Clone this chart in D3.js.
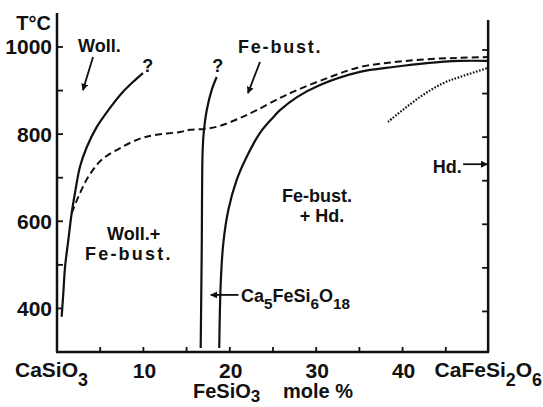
<!DOCTYPE html>
<html>
<head>
<meta charset="utf-8">
<script src="https://cdn.jsdelivr.net/npm/d3@7"></script>
<style>
  body { margin: 0; background: #fff; }
  text { font-family: "Liberation Sans", Arial, sans-serif; font-weight: bold; fill: #111; }
</style>
</head>
<body>
<div id="chart"></div>
<script>
/* DATA (mole % FeSiO3, temperature °C) */
const tempTicks = [400, 500, 600, 700, 800, 900, 1000];
const tempLabels = [400, 600, 800, 1000];
const moleTicks = [5, 10, 15, 20, 25, 30, 35, 40, 45];
const moleLabels = [10, 20, 30, 40];

// wollastonite solid-solution limit
const wollastonite = [[0.54, 381], [0.73, 435], [0.93, 495], [1.31, 557], [1.70, 619], [2.08, 665],
  [2.66, 725], [3.44, 770], [4.59, 816], [5.94, 855], [7.49, 894], [9.03, 924], [9.95, 940]];
// Fe-bustamite limit (dashed)
const bustamite = [[1.70, 619], [2.47, 656], [3.62, 702], [5.17, 741], [7.49, 770], [9.80, 791],
  [11.34, 798], [14.24, 805], [15.39, 810], [17.13, 812], [18.87, 819], [21.18, 837], [23.11, 855],
  [25.81, 883], [27.78, 901], [31.6, 931], [35.07, 954], [38.9, 965], [42.8, 972], [46.6, 975], [49.9, 977]];
// Ca5FeSi6O18 composition line
const ca5Line = [[16.63, 309], [16.75, 534], [16.86, 764], [17.01, 810], [17.33, 855], [17.9, 901], [18.48, 931]];
// Fe-bustamite + hedenbergite boundary
const hdBoundary = [[18.78, 309], [18.95, 458], [19.25, 550], [19.83, 626], [20.8, 695], [21.96, 748],
  [23.5, 803], [25.03, 839], [25.81, 855], [27.78, 885], [30.44, 913], [35.07, 943], [38.9, 954],
  [42.8, 963], [46.6, 968], [49.9, 968]];
// hedenbergite (dotted)
const hdDotted = [[38.3, 828], [42.0, 885], [44.7, 917], [46.6, 931], [49.9, 952]];

/* CONSTANTS */
const width = 543, height = 407;
const x = d3.scaleLinear().domain([0, 50]).range([57, 489]);
const y = d3.scaleLinear().domain([300, 1078]).range([352, 13]);

const svg = d3.select("#chart").append("svg")
  .attr("width", width)
  .attr("height", height);

const defs = svg.append("defs");
defs.append("marker")
  .attr("id", "head")
  .attr("viewBox", "0 0 10 10")
  .attr("refX", 9).attr("refY", 5)
  .attr("markerWidth", 7).attr("markerHeight", 7)
  .attr("markerUnits", "userSpaceOnUse")
  .attr("orient", "auto")
  .append("path")
  .attr("d", "M0,0L10,5L0,10z")
  .attr("fill", "#111");

/* AXES */
const axes = svg.append("g").attr("stroke", "#111");
axes.append("line")
  .attr("x1", x(0)).attr("x2", x(0)).attr("y1", y(300)).attr("y2", y(1078))
  .attr("stroke-width", 2.5);
axes.append("line")
  .attr("x1", x(49.9)).attr("x2", x(49.9)).attr("y1", y(300)).attr("y2", y(1062))
  .attr("stroke-width", 2.5);
axes.append("line")
  .attr("x1", x(0) - 1).attr("x2", x(49.9) + 1).attr("y1", y(300)).attr("y2", y(300))
  .attr("stroke-width", 2.5);

axes.selectAll("line.lt").data(tempTicks).join("line")
  .attr("class", "lt")
  .attr("x1", x(0)).attr("x2", x(0) + 6)
  .attr("y1", d => y(d)).attr("y2", d => y(d))
  .attr("stroke-width", 1.8);
axes.selectAll("line.rt").data(tempTicks).join("line")
  .attr("class", "rt")
  .attr("x1", x(49.9)).attr("x2", x(49.9) - 6)
  .attr("y1", d => y(d) + 3).attr("y2", d => y(d) + 3)
  .attr("stroke-width", 1.8);
axes.selectAll("line.bt").data(moleTicks).join("line")
  .attr("class", "bt")
  .attr("x1", d => x(d)).attr("x2", d => x(d))
  .attr("y1", y(300)).attr("y2", y(300) - 5)
  .attr("stroke-width", 1.8);

svg.selectAll("text.yl").data(tempLabels).join("text")
  .attr("class", "yl")
  .attr("x", x(0) - 5)
  .attr("y", d => y(d) + 7.5)
  .attr("text-anchor", "end")
  .attr("font-size", 21)
  .text(d => d);

svg.selectAll("text.xl").data(moleLabels).join("text")
  .attr("class", "xl")
  .attr("x", d => x(d) + 1)
  .attr("y", 378)
  .attr("text-anchor", "middle")
  .attr("font-size", 21)
  .text(d => d);

// compound labels with subscripts
function formula(parts, sx, sy, size, anchor, drop) {
  drop = drop || 0.42;
  const t = svg.append("text")
    .attr("x", sx).attr("y", sy)
    .attr("font-size", size)
    .attr("text-anchor", anchor || "start");
  let down = false;
  parts.forEach(p => {
    const sub = typeof p === "number";
    const ts = t.append("tspan").text(String(p));
    if (sub && !down) { ts.attr("dy", size * drop).attr("font-size", size * 0.85); down = true; }
    else if (!sub && down) { ts.attr("dy", -size * drop); down = false; }
    else if (sub) ts.attr("font-size", size * 0.85);
  });
  return t;
}

formula(["CaSiO", 3], 15, 377, 21);
formula(["CaFeSi", 2, "O", 6], 542, 377, 21, "end");
formula(["FeSiO", 3], 193, 398, 20, "start", 0.2);
svg.append("text").attr("x", 283).attr("y", 398).attr("font-size", 20).text("mole %");
svg.append("text").attr("x", 51).attr("y", 30).attr("font-size", 20).attr("text-anchor", "end").text("T°C");

/* CURVES */
const line = d3.line()
  .x(d => x(d[0]))
  .y(d => y(d[1]))
  .curve(d3.curveCatmullRom.alpha(0.5));

const curves = svg.append("g").attr("fill", "none").attr("stroke", "#111");
curves.append("path").datum(wollastonite).attr("d", line).attr("stroke-width", 2.2);
curves.append("path").datum(bustamite).attr("d", line).attr("stroke-width", 2)
  .attr("stroke-dasharray", "7,4");
curves.append("path").datum(ca5Line).attr("d", line).attr("stroke-width", 2.2);
curves.append("path").datum(hdBoundary).attr("d", line).attr("stroke-width", 2.2);
curves.append("path").datum(hdDotted).attr("d", line).attr("stroke-width", 2.2)
  .attr("stroke-dasharray", "1.6,1.6");

/* ANNOTATIONS */
function arrow(x1, t1, x2, t2) {
  svg.append("line")
    .attr("x1", x(x1)).attr("y1", y(t1))
    .attr("x2", x(x2)).attr("y2", y(t2))
    .attr("stroke", "#111").attr("stroke-width", 1.8)
    .attr("marker-end", "url(#head)");
}
arrow(4.17, 977, 3.0, 901);
arrow(23.5, 966, 22.1, 894);
arrow(47.0, 731, 49.8, 731);
arrow(21.0, 431, 17.8, 431);

function label(str, mx, t, opts) {
  opts = opts || {};
  svg.append("text")
    .attr("x", x(mx)).attr("y", y(t))
    .attr("font-size", opts.size || 18)
    .attr("letter-spacing", opts.ls || 0)
    .attr("text-anchor", opts.anchor || "start")
    .text(str);
}
label("Woll.", 2.43, 989);
label("?", 10.5, 943, { anchor: "middle" });
label("?", 18.6, 943, { anchor: "middle" });
label("Fe-bust.", 20.95, 986, { ls: 1.8 });
label("Woll.+", 5.79, 557);
label("Fe-bust.", 3.24, 511, { ls: 2.2 });
label("Fe-bust.", 26.04, 644);
label("+ Hd.", 28.1, 598);
label("Hd.", 43.5, 711);
formula(["Ca", 5, "FeSi", 6, "O", 18], x(21.3), y(415), 18);
</script>
</body>
</html>
